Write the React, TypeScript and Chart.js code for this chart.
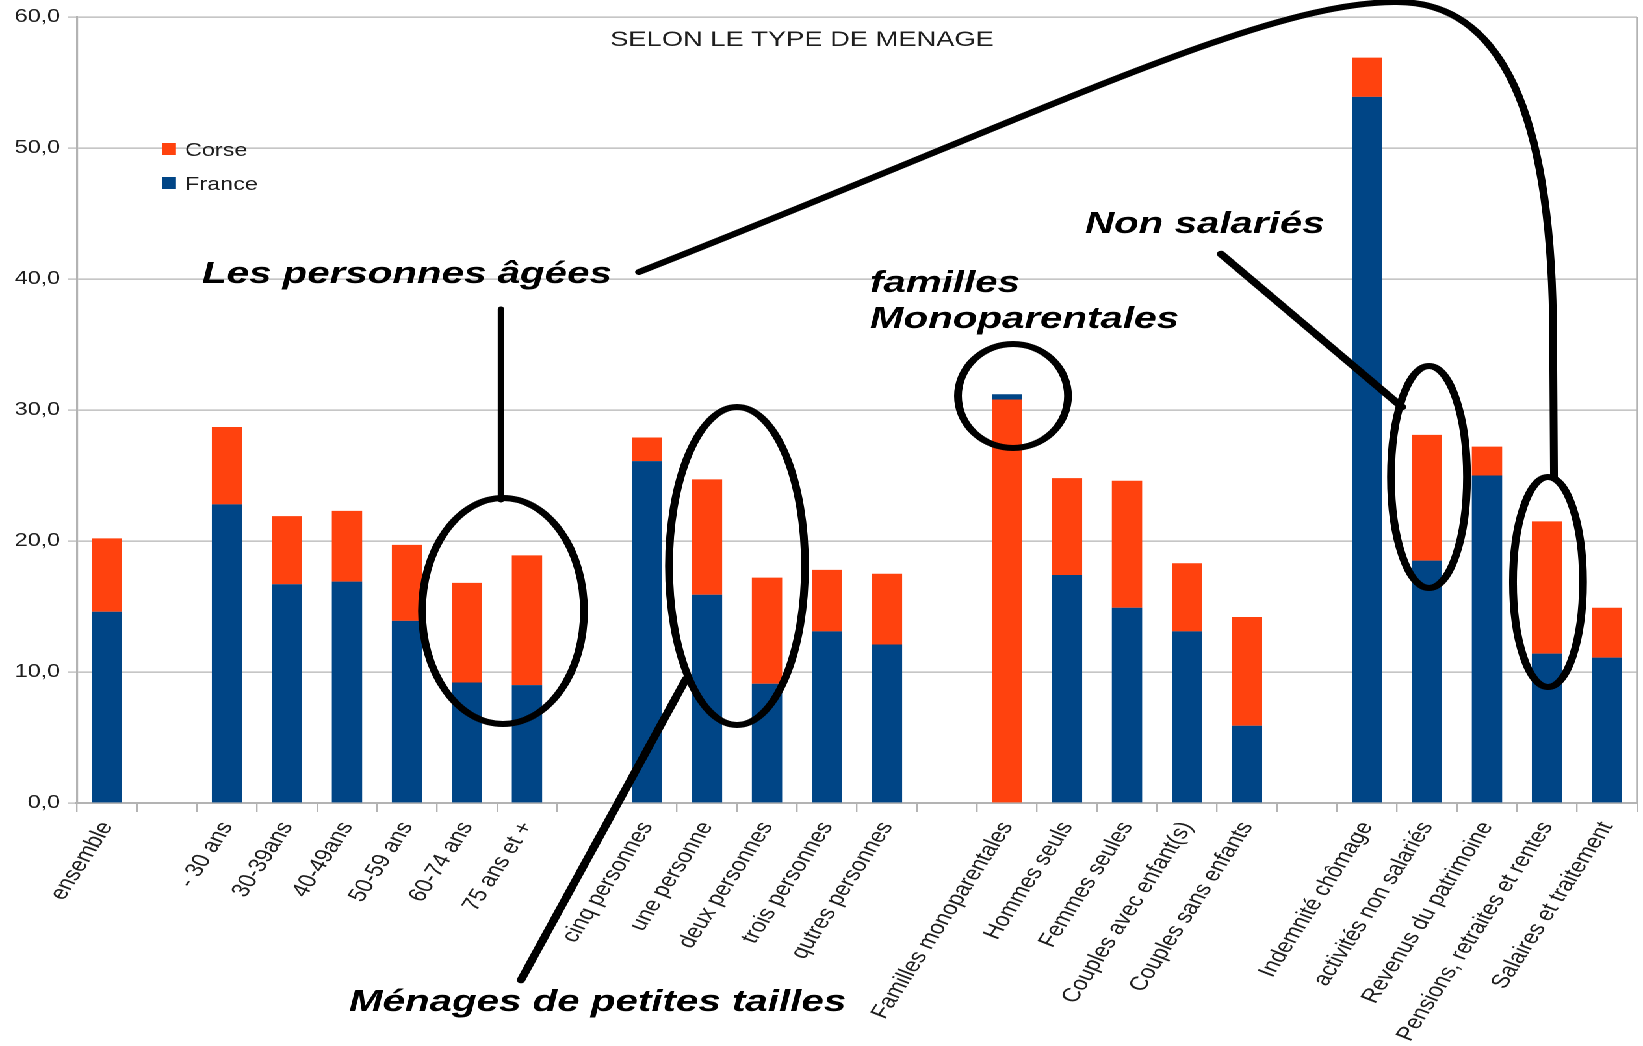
import React, { useEffect, useRef } from 'react';
import { Chart, registerables } from 'chart.js';

Chart.register(...registerables);

// ---- data ----
const categories = [
  'ensemble', '',
  '- 30 ans', '30-39ans', '40-49ans', '50-59 ans', '60-74 ans', '75 ans et +', '',
  'cinq personnes', 'une personne', 'deux personnes', 'trois personnes', 'qutres personnes', '',
  'Familles monoparentales', 'Hommes seuls', 'Femmes seules', 'Couples avec enfant(s)', 'Couples sans enfants', '',
  'Indemnité chômage', 'activités non salariés', 'Revenus du patrimoine', 'Pensions, retraites et rentes', 'Salaires et traitement',
];
const franceValues = [14.6, null, 22.8, 16.7, 16.9, 13.9, 9.2, 9.0, null, 26.1, 15.9, 9.1, 13.1, 12.1, null, 31.2, 17.4, 14.9, 13.1, 5.9, null, 53.9, 18.5, 25.0, 11.4, 11.1];
const corseValues = [20.2, null, 28.7, 21.9, 22.3, 19.7, 16.8, 18.9, null, 27.9, 24.7, 17.2, 17.8, 17.5, null, 30.8, 24.8, 24.6, 18.3, 14.2, null, 56.9, 28.1, 27.2, 21.5, 14.9];
const yTicks = [0, 10, 20, 30, 40, 50, 60];
const seriesNames = ['Corse', 'France'];

// ---- styles ----
const W = 1264;
const H = 1046;
const S = 1643 / W; // horizontal stretch of the reference picture
const BLUE = '#004586';
const ORANGE = '#ff420e';
const GRID = '#b3b3b3';
const TEXT = '#1e1e1e';
const FONT = '"Liberation Sans", Arial, sans-serif';

const franceBars = franceValues.map((f, i) => {
  const c = corseValues[i];
  if (f == null || c == null) return null;
  return f <= c ? [0, f] : [c, f];
});
const corseBars = corseValues.map((c, i) => {
  const f = franceValues[i];
  if (f == null || c == null) return null;
  return f <= c ? [f, c] : [0, c];
});

const X = (fx: number) => fx / S;

const overlay = {
  id: 'overlay',
  afterDraw(chart: any) {
    const ctx = chart.ctx as CanvasRenderingContext2D;
    const a = chart.chartArea;
    ctx.save();
    // right wall border
    ctx.strokeStyle = GRID;
    ctx.lineWidth = 1.5;
    ctx.beginPath();
    ctx.moveTo(a.right, a.top);
    ctx.lineTo(a.right, a.bottom);
    ctx.stroke();

    // title
    ctx.fillStyle = TEXT;
    ctx.font = `21px ${FONT}`;
    ctx.textAlign = 'center';
    ctx.textBaseline = 'alphabetic';
    ctx.fillText('SELON LE TYPE DE MENAGE', X(802), 46);

    // legend
    ctx.textAlign = 'left';
    ctx.font = `18px ${FONT}`;
    const legendColors = [ORANGE, BLUE];
    seriesNames.forEach((name, i) => {
      const y = 143 + i * 34;
      ctx.fillStyle = legendColors[i];
      ctx.fillRect(X(162), y, X(14), 12);
      ctx.fillStyle = TEXT;
      ctx.fillText(name, X(185), y + 13);
    });

    // annotations
    ctx.strokeStyle = '#000';
    ctx.fillStyle = '#000';
    ctx.lineCap = 'round';
    const ell = (cx: number, cy: number, rx: number, ry: number) => {
      ctx.lineWidth = 6;
      ctx.beginPath();
      ctx.ellipse(X(cx), cy, X(rx), ry, 0, 0, Math.PI * 2);
      ctx.stroke();
    };
    ell(503, 611, 81, 113);
    ell(737, 566, 68, 159);
    ell(1013, 396, 55, 52);
    ell(1429, 477, 38, 111);
    ell(1548, 582, 35, 105);

    const line = (x1: number, y1: number, x2: number, y2: number, w = 5) => {
      ctx.lineWidth = w;
      ctx.beginPath();
      ctx.moveTo(X(x1), y1);
      ctx.lineTo(X(x2), y2);
      ctx.stroke();
    };
    line(501, 309, 501, 500, 5);
    line(686, 679, 521, 980, 6.5);
    line(1221, 254, 1402, 407, 6.5);

    // big curve
    ctx.lineWidth = 6;
    ctx.beginPath();
    ctx.moveTo(X(639), 272);
    ctx.bezierCurveTo(X(1050), 110, X(1260), 4, X(1394), 2);
    ctx.bezierCurveTo(X(1505), 0, X(1550), 120, X(1553), 320);
    ctx.lineTo(X(1554), 477);
    ctx.stroke();

    ctx.font = `italic bold 31px ${FONT}`;
    ctx.textAlign = 'left';
    ctx.fillText('Les personnes âgées', X(202), 283);
    ctx.fillText('familles', X(870), 292);
    ctx.fillText('Monoparentales', X(870), 328);
    ctx.fillText('Non salariés', X(1085), 233);
    ctx.fillText('Ménages de petites tailles', X(349), 1011);
    ctx.restore();
  },
};

export default function App() {
  const ref = useRef<HTMLCanvasElement>(null);
  useEffect(() => {
    document.body.style.margin = '0';
    document.body.style.overflow = 'hidden';
    const chart = new Chart(ref.current as HTMLCanvasElement, {
      type: 'bar',
      data: {
        labels: categories,
        datasets: [
          {
            label: 'France',
            data: franceBars as any,
            backgroundColor: BLUE,
            grouped: false,
            categoryPercentage: 1,
            barPercentage: 0.505,
            order: 1,
          },
          {
            label: 'Corse',
            data: corseBars as any,
            backgroundColor: ORANGE,
            grouped: false,
            categoryPercentage: 1,
            barPercentage: 0.505,
            order: 2,
          },
        ],
      },
      options: {
        animation: false,
        responsive: false,
        devicePixelRatio: 2,
        layout: { padding: { top: 17, right: W - 1637 / S, left: 0, bottom: 0 } },
        plugins: {
          legend: { display: false },
          tooltip: { enabled: false },
          title: { display: false },
        },
        scales: {
          x: {
            offset: true,
            grid: { offset: true, drawOnChartArea: false, tickLength: 9, color: GRID, lineWidth: 1.2 },
            border: { color: GRID, width: 2 },
            ticks: {
              autoSkip: false,
              maxRotation: 63,
              minRotation: 63,
              padding: 6,
              color: TEXT,
              font: { family: FONT, size: 19.5 },
            },
            afterFit: (scale: any) => { scale.height = 243; },
          },
          y: {
            min: 0,
            max: 60,
            afterBuildTicks: (scale: any) => { scale.ticks = yTicks.map((v) => ({ value: v })); },
            grid: { color: GRID, tickLength: 7, lineWidth: 1.2 },
            border: { color: GRID, width: 1.6 },
            ticks: {
              padding: 6,
              color: TEXT,
              font: { family: FONT, size: 18 },
              callback: (v: any) => Number(v).toFixed(1).replace('.', ','),
            },
            afterFit: (scale: any) => { scale.width = 77 / S; },
          },
        },
      },
      plugins: [overlay],
    });
    return () => chart.destroy();
  }, []);
  return (
    <div
      style={{
        position: 'fixed',
        left: 0,
        top: 0,
        width: W,
        height: H,
        transform: `scaleX(${S})`,
        transformOrigin: '0 0',
        background: '#fff',
      }}
    >
      <canvas ref={ref} width={W} height={H} style={{ width: W, height: H, display: 'block' }} />
    </div>
  );
}
